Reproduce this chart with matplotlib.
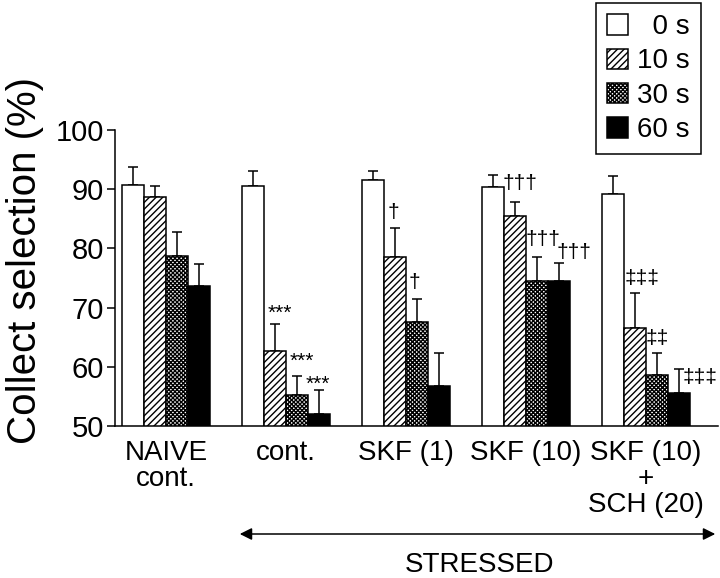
import matplotlib
matplotlib.use('Agg')
import matplotlib.pyplot as plt
import numpy as np

plt.rcParams['font.family'] = ['Liberation Sans', 'DejaVu Sans']
plt.rcParams['hatch.linewidth'] = 1.0

# groupes et series (temps)
groupes = ['NAIVE\ncont.', 'cont.', 'SKF (1)', 'SKF (10)', 'SKF (10)\n+\nSCH (20)']
series = ['  0 s', '10 s', '30 s', '60 s']

# moyennes (%)
moy_0 = [90.7, 90.6, 91.6, 90.4, 89.2]
moy_10 = [88.7, 62.7, 78.5, 85.4, 66.6]
moy_30 = [78.7, 55.2, 67.6, 74.5, 58.6]
moy_60 = [73.6, 52.0, 56.8, 74.5, 55.5]

# erreurs (vers le haut seulement)
err_0 = [3.0, 2.5, 1.4, 2.0, 3.1]
err_10 = [1.8, 4.6, 5.0, 2.4, 5.8]
err_30 = [4.0, 3.3, 3.9, 4.1, 3.7]
err_60 = [3.8, 4.0, 5.5, 3.0, 4.1]

# annotations : (groupe, serie, texte)
annot_groupe = [1, 1, 1, 2, 2, 3, 3, 3, 4, 4, 4]
annot_serie = [1, 2, 3, 1, 2, 1, 2, 3, 1, 2, 3]
annot_texte = ['***', '***', '***', '\u2020', '\u2020',
               '\u2020\u2020\u2020', '\u2020\u2020\u2020', '\u2020\u2020\u2020',
               '\u2021\u2021\u2021', '\u2021\u2021', '\u2021\u2021\u2021']
# decalages en pixels (x, y) par rapport au haut de la barre d'erreur
annot_dx = [5, 5, -1, -2, -3, 5, 6, 15, 7, 0, 21]
annot_dy = [10, 14, 6, 15, 16, 19, 17, 11, 15, 15, -8]

moyennes = [moy_0, moy_10, moy_30, moy_60]
erreurs = [err_0, err_10, err_30, err_60]
hachures = [None, '/////', 'xxxxxxxx', None]
couleurs = ['white', 'white', 'white', 'black']

fig = plt.figure(figsize=(7.2, 5.78), dpi=100)
ax = fig.add_axes([115 / 720, 1 - 426 / 578, 603 / 720, 296 / 578])

x = np.arange(len(groupes))
w = 0.183
barres = []
for i in range(4):
    pos = x + (i - 1.5) * w
    b = ax.bar(pos, moyennes[i], w, bottom=0, color=couleurs[i], edgecolor='black',
               linewidth=1.1, hatch=hachures[i], label=series[i], zorder=2)
    barres.append(b)
    ax.errorbar(pos, moyennes[i], yerr=[np.zeros(len(groupes)), erreurs[i]],
                fmt='none', ecolor='black', elinewidth=1.1, capsize=3.6,
                capthick=1.1, zorder=1)

px = 0.72
for g, s, t, dx, dy in zip(annot_groupe, annot_serie, annot_texte, annot_dx, annot_dy):
    xb = x[g] + (s - 1.5) * w
    yb = moyennes[s][g] + erreurs[s][g]
    fs = 15 if t.startswith('*') else 15
    ax.annotate(t, (xb, yb), xytext=(dx * px, dy * px), textcoords='offset points',
                ha='center', va='center', fontsize=fs)

ax.set_ylim(50, 100)
ax.set_xlim(-0.425, 4.6)
ax.set_yticks([50, 60, 70, 80, 90, 100])
ax.set_xticks(x)
ax.set_xticklabels(groupes, linespacing=1.0)
ax.tick_params(axis='x', length=0, pad=10, labelsize=20)
ax.tick_params(axis='y', length=6, width=1.1, pad=2, labelsize=21)
for sp in ['top', 'right']:
    ax.spines[sp].set_visible(False)
for sp in ['left', 'bottom']:
    ax.spines[sp].set_linewidth(1.1)
ax.set_ylabel('Collect selection (%)', fontsize=29)
ax.yaxis.set_label_coords(-0.118, 0.56)

leg = fig.legend(barres, series, loc='upper right',
                 bbox_to_anchor=(701 / 720, 1 - 3 / 578), borderaxespad=0,
                 fontsize=20, handlelength=0.75, handleheight=0.75,
                 handletextpad=0.35, labelspacing=0.3, borderpad=0.4,
                 fancybox=False, framealpha=1, edgecolor='black')
leg.get_frame().set_linewidth(1.1)

# fleche STRESSED
fig.add_artist(matplotlib.patches.FancyArrowPatch(
    (237 / 720, 1 - 534 / 578), (718 / 720, 1 - 534 / 578),
    transform=fig.transFigure, arrowstyle='<|-|>', mutation_scale=18,
    color='black', linewidth=1.1))
fig.text(480 / 720, 1 - 565 / 578, 'STRESSED', ha='center', va='center', fontsize=20)

plt.savefig('out.png', dpi=100)
